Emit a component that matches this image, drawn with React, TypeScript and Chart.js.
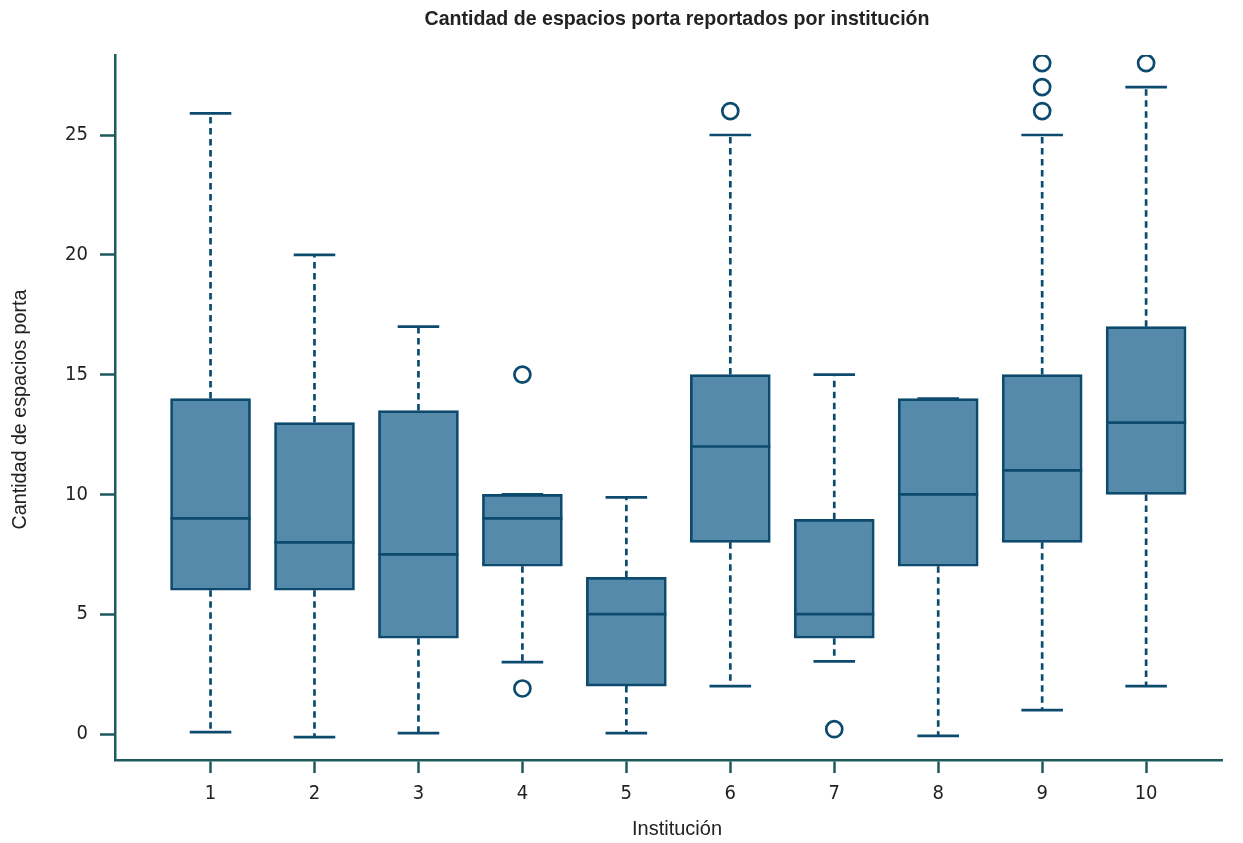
import React, { useEffect, useRef } from "react";
import { Chart, registerables } from "chart.js";

Chart.register(...registerables);

const categories = [1, 2, 3, 4, 5, 6, 7, 8, 9, 10];
const whiskerLow = [0.08, -0.13, 0.04, 3, 0.04, 2, 3.03, -0.08, 1, 2];
const q1 = [6, 6, 4, 7, 2, 8, 4, 7, 8, 10];
const medians = [9, 8, 7.5, 9, 5, 12, 5, 10, 11, 13];
const q3 = [14, 13, 13.5, 10, 6.54, 15, 8.96, 14, 15, 17];
const whiskerHigh = [25.9, 20, 17, 10, 9.88, 25, 15, 14, 25, 27];
const outlierX = [4, 4, 6, 7, 9, 9, 9, 10];
const outlierY = [15, 1.9, 26, 0.2, 26, 27, 28, 28];
const yTicks = [0, 5, 10, 15, 20, 25];

const TITLE = "Cantidad de espacios porta reportados por institución";
const X_TITLE = "Institución";
const Y_TITLE = "Cantidad de espacios porta";

const STROKE = "#0c4a6e";
const FILL = "#568aab";
const AXIS = "#1d5a5c";
const TEXT = "#222222";
const FONT = "'Liberation Sans Narrow', 'DejaVu Sans Condensed', 'Liberation Sans', sans-serif";
const NARROW_BASE = "'Liberation Sans', Arial, sans-serif";

// draws a text in a narrow style (Liberation Sans compressed horizontally)
function narrowText(ctx: any, text: string, x: number, y: number, font: string, width: number, rotate: boolean) {
  ctx.save();
  ctx.font = font;
  const w = ctx.measureText(text).width;
  const sx = width / w;
  ctx.translate(x, y);
  if (rotate) ctx.rotate(-Math.PI / 2);
  ctx.scale(sx, 1);
  ctx.fillStyle = TEXT;
  ctx.textAlign = "center";
  ctx.textBaseline = "middle";
  ctx.fillText(text, 0, 0);
  ctx.restore();
}

const textPlugin = {
  id: "narrowTitles",
  afterDraw(chart: any) {
    const { ctx, chartArea } = chart;
    const cx = (chartArea.left + chartArea.right) / 2 + 8.5;
    narrowText(ctx, TITLE, cx, 19, `bold 21px ${NARROW_BASE}`, 505, false);
    narrowText(ctx, X_TITLE, cx, 829, `21px ${NARROW_BASE}`, 90, false);
    narrowText(ctx, Y_TITLE, 20, (chartArea.top + chartArea.bottom) / 2 + 2, `21px ${NARROW_BASE}`, 240, true);
  },
};

const boxPlugin = {
  id: "boxWhiskers",
  afterDatasetsDraw(chart: any) {
    const { ctx, scales } = chart;
    const xs = scales.x;
    const ys = scales.y;
    const capHalf = xs.getPixelForValue(1.2) - xs.getPixelForValue(1);
    const boxHalf = xs.getPixelForValue(1.385) - xs.getPixelForValue(1);
    ctx.save();
    ctx.strokeStyle = STROKE;
    ctx.lineWidth = 2.7;
    categories.forEach((c, i) => {
      const x = xs.getPixelForValue(c);
      ctx.setLineDash([6.5, 4.5]);
      ctx.beginPath();
      if (whiskerHigh[i] > q3[i]) {
        ctx.moveTo(x, ys.getPixelForValue(q3[i]));
        ctx.lineTo(x, ys.getPixelForValue(whiskerHigh[i]));
      }
      if (whiskerLow[i] < q1[i]) {
        ctx.moveTo(x, ys.getPixelForValue(q1[i]));
        ctx.lineTo(x, ys.getPixelForValue(whiskerLow[i]));
      }
      ctx.stroke();
      ctx.setLineDash([]);
      ctx.beginPath();
      const yh = ys.getPixelForValue(whiskerHigh[i]);
      const yl = ys.getPixelForValue(whiskerLow[i]);
      ctx.moveTo(x - capHalf, yh);
      ctx.lineTo(x + capHalf, yh);
      ctx.moveTo(x - capHalf, yl);
      ctx.lineTo(x + capHalf, yl);
      const ym = ys.getPixelForValue(medians[i]);
      ctx.moveTo(x - boxHalf, ym);
      ctx.lineTo(x + boxHalf, ym);
      ctx.stroke();
    });
    ctx.restore();
  },
};

export default function App() {
  const ref = useRef<HTMLCanvasElement | null>(null);
  useEffect(() => {
    document.body.style.margin = "0";
    const canvas = ref.current;
    if (!canvas) return;
    const chart = new Chart(canvas, {
      type: "bar",
      data: {
        datasets: [
          {
            type: "bar",
            data: categories.map((c, i) => ({ x: c, y: [q1[i], q3[i]] })) as any,
            backgroundColor: FILL,
            borderColor: STROKE,
            borderWidth: 2.7,
            borderSkipped: false,
            barThickness: 80,
            order: 2,
          } as any,
          {
            type: "scatter",
            data: outlierX.map((x, i) => ({ x, y: outlierY[i] })),
            backgroundColor: "#ffffff",
            borderColor: STROKE,
            borderWidth: 2.7,
            pointRadius: 8,
            order: 1,
          } as any,
        ],
      },
      plugins: [boxPlugin, textPlugin],
      options: {
        animation: false,
        responsive: false,
        maintainAspectRatio: false,
        layout: { padding: { left: 0, right: 21, top: 55, bottom: 0 } },
        plugins: {
          legend: { display: false },
          tooltip: { enabled: false },
          title: { display: false, text: TITLE },
        },
        scales: {
          x: {
            type: "linear",
            min: 0.081,
            max: 10.73,
            offset: false,
            afterBuildTicks: (s: any) => {
              s.ticks = categories.map((v) => ({ value: v }));
            },
            afterFit: (s: any) => {
              s.height = 83;
            },
            grid: {
              display: true,
              offset: false,
              drawOnChartArea: false,
              drawTicks: true,
              tickLength: 13,
              tickWidth: 2.5,
              tickColor: AXIS,
            },
            border: { display: true, color: AXIS, width: 2.5 },
            ticks: {
              color: TEXT,
              font: { family: FONT, size: 20 },
              padding: 9,
              maxRotation: 0,
              callback: (v: any) => String(v),
            },
            title: { display: false, text: X_TITLE },
          },
          y: {
            type: "linear",
            min: -1.085,
            max: 28.34,
            afterBuildTicks: (s: any) => {
              s.ticks = yTicks.map((v) => ({ value: v }));
            },
            afterFit: (s: any) => {
              s.width = 115;
            },
            grid: {
              display: true,
              drawOnChartArea: false,
              drawTicks: true,
              tickLength: 15,
              tickWidth: 2.5,
              tickColor: AXIS,
            },
            border: { display: true, color: AXIS, width: 2.5 },
            ticks: {
              color: TEXT,
              font: { family: FONT, size: 20 },
              padding: 12,
              callback: (v: any) => String(v),
            },
            title: { display: false, text: Y_TITLE },
          },
        },
      } as any,
    });
    return () => chart.destroy();
  }, []);
  return (
    <div style={{ width: 1243, height: 843 }}>
      <canvas ref={ref} width={1243} height={843} style={{ display: "block" }} />
    </div>
  );
}
